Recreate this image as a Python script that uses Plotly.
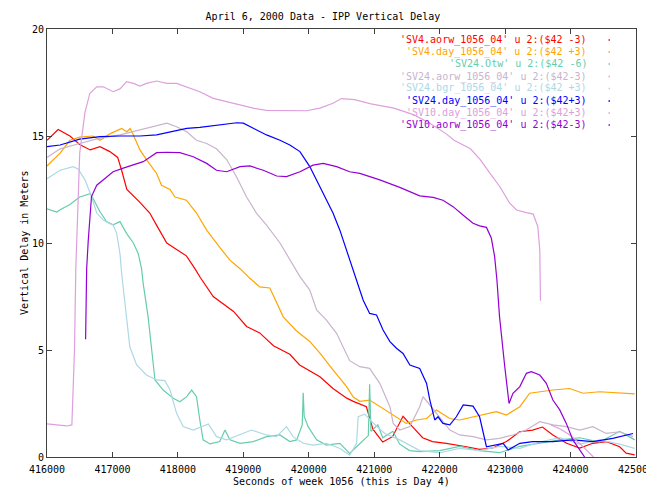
import plotly.graph_objects as go

# ---------------- data ----------------
x_sv4_aorw = [416000, 416170, 416350, 416500, 416660, 416810, 416960, 417080, 417140, 417220,
              417420, 417570, 417680, 417830, 417980, 418130, 418260, 418340, 418540, 418850,
              419050, 419250, 419460, 419710, 419860, 420170, 420370, 420580, 420680, 420880,
              420980, 421130, 421280, 421440, 421590, 421740, 421890, 422100, 422410, 422610,
              422810, 423020, 423220, 423420, 423570, 423730, 423940, 424140, 424340, 424550,
              424750, 424850, 424980]
y_sv4_aorw = [14.8, 15.3, 15.0, 14.6, 14.35, 14.5, 14.27, 14.0, 13.4, 12.5,
              11.9, 11.4, 10.8, 10.0, 9.7, 9.4, 8.8, 8.4, 7.5, 6.8,
              6.1, 5.8, 5.2, 4.8, 4.3, 3.75, 3.2, 2.75, 2.6, 2.35,
              1.3, 0.7, 0.95, 1.9, 1.4, 0.9, 0.72, 0.64, 0.48, 0.36,
              0.42, 0.72, 1.18, 1.26, 1.4, 1.03, 0.64, 0.42, 0.64, 0.72,
              0.48, 0.18, 0.1]

x_sv4_day = [416000, 416200, 416350, 416500, 416700, 416810, 416960, 417140, 417220, 417270,
             417320, 417420, 417520, 417675, 417750, 417880, 417955, 418130, 418285, 418440,
             418640, 418795, 418950, 419100, 419250, 419405, 419610, 419810, 420015, 420170,
             420370, 420575, 420680, 420780, 420930, 421135, 421340, 421490, 421645, 421800,
             421950, 422155, 422305, 422510, 422715, 422865, 423020, 423225, 423375, 423530,
             423730, 423985, 424190, 424445, 424700, 424980]
y_sv4_day = [13.6, 14.2, 14.8, 14.95, 15.0, 14.8, 15.1, 15.35, 15.2, 15.35,
             15.05, 14.35, 13.9, 13.25, 12.7, 12.5, 12.15, 12.0, 11.4, 10.6,
             9.8, 9.2, 8.8, 8.35, 7.95, 7.9, 6.55, 5.9, 5.4, 4.85,
             4.07, 3.3, 2.8, 2.6, 2.66, 2.27, 1.88, 1.57, 1.73, 1.8,
             2.2, 1.8, 1.73, 1.88, 2.04, 2.12, 1.96, 2.35, 2.98, 3.05,
             3.13, 3.2, 2.98, 3.05, 3.0, 2.95]

x_sv24_otw = [416000, 416150, 416200, 416350, 416500, 416660, 416700, 416810, 416910, 417010,
              417115, 417215, 417320, 417395, 417445, 417470, 417545, 417600, 417650, 417775,
              417930, 418030, 418135, 418210, 418285, 418335, 418385, 418490, 418640, 418720,
              418795, 418950, 419150, 419355, 419560, 419710, 419815, 419900, 419915, 419930,
              419990, 420120, 420270, 420475, 420625, 420730, 420910, 420930, 420950, 421055,
              421130, 421285, 421390, 421540, 421700, 422000, 422305, 422610, 422915, 423225,
              423835, 424140, 424445, 424750, 424980]
y_sv24_otw = [11.6, 11.45, 11.55, 11.8, 12.15, 12.3, 12.1, 11.46, 11.0, 10.85,
              11.0, 10.45, 10.0, 9.5, 8.8, 8.1, 6.55, 5.0, 3.6, 3.13,
              2.74, 2.58, 2.82, 3.13, 2.82, 1.73, 0.8, 0.61, 0.72, 1.26,
              0.8, 0.64, 0.72, 0.95, 1.03, 0.72, 0.8, 1.5, 3.0, 1.9,
              1.42, 0.8, 0.56, 0.64, 0.17, 0.48, 1.0, 3.4, 1.2, 1.5,
              0.9, 1.2, 0.6, 0.3, 0.25, 0.3, 0.5, 0.3, 0.2, 0.5,
              0.8, 0.9, 0.7, 1.2, 0.8]

x_sv24_aorw = [416000, 416200, 416500, 416810, 417115, 417420, 417625, 417830, 417980, 418135,
               418285, 418440, 418590, 418745, 418895, 419050, 419200, 419355, 419560, 419710,
               419865, 420015, 420120, 420270, 420425, 420625, 420780, 420930, 421085, 421240,
               421290, 421390, 421545, 421695, 421745, 421850, 422000, 422155, 422305, 422510,
               422715, 422915, 423120, 423320, 423530, 423730, 423935, 424140, 424340, 424545,
               424750, 424955]
y_sv24_aorw = [14.0, 14.4, 14.65, 14.9, 15.05, 15.3, 15.45, 15.6, 15.43, 15.2,
               14.8, 14.65, 14.4, 13.9, 13.1, 12.15, 11.4, 10.84, 10.0, 9.2,
               8.43, 7.8, 6.87, 6.4, 5.78, 4.5, 4.22, 4.14, 3.44, 2.35,
               1.57, 1.26, 1.42, 2.35, 2.82, 2.43, 1.88, 1.26, 1.03, 0.95,
               0.8, 0.87, 1.03, 1.26, 1.65, 1.5, 1.42, 1.26, 1.42, 1.1,
               1.18, 0.95]

x_sv24_bgr = [416000, 416200, 416400, 416480, 416580, 416680, 416760, 416860, 416960, 417010,
              417065, 417115, 417140, 417215, 417265, 417370, 417520, 417675, 417800, 417880,
              417980, 418080, 418235, 418465, 418590, 418745, 418950, 419125, 419355, 419505,
              419660, 419760, 419915, 420065, 420270, 420475, 420625, 420730, 420755, 420855,
              420980, 421160, 421390, 421695, 422000, 422305, 422610, 422915, 423225, 423530,
              423835, 424140, 424445, 424750, 424980]
y_sv24_bgr = [13.0, 13.4, 13.57, 13.45, 12.95, 12.17, 11.4, 11.07, 10.9, 10.84,
              10.45, 9.5, 8.6, 6.55, 5.15, 4.3, 3.83, 3.6, 3.57, 3.13,
              2.04, 1.42, 1.26, 1.54, 0.95, 0.8, 1.03, 1.26, 1.03, 0.95,
              1.42, 0.95, 0.64, 0.56, 0.64, 0.4, 0.09, 0.64, 1.88, 2.0,
              1.6, 1.1, 0.8, 0.3, 0.2, 0.4, 0.3, 0.5, 0.4, 0.7,
              0.9, 0.6, 0.8, 0.6, 0.4]

x_sv24_day = [416000, 416200, 416500, 416810, 417115, 417420, 417675, 417880, 418135, 418335,
              418540, 418745, 418900, 419000, 419150, 419355, 419560, 419710, 419865, 420015,
              420170, 420270, 420370, 420475, 420575, 420730, 420830, 420930, 421035, 421135,
              421240, 421340, 421440, 421545, 421695, 421800, 421850, 421925, 421975, 422050,
              422155, 422255, 422360, 422510, 422610, 422715, 422865, 422970, 423045, 423225,
              423420, 423730, 424035, 424340, 424645, 424955]
y_sv24_day = [14.5, 14.58, 14.85, 14.97, 15.0, 15.0, 15.05, 15.2, 15.36, 15.4,
              15.47, 15.56, 15.62, 15.6, 15.36, 15.05, 14.8, 14.58, 14.27, 13.57,
              12.63, 12.0, 11.4, 10.6, 9.67, 8.27, 7.34, 6.71, 6.64, 5.93,
              5.39, 5.08, 4.84, 4.3, 4.14, 3.44, 2.66, 1.73, 1.88, 1.57,
              1.5, 1.88, 2.43, 2.38, 1.88, 0.48, 0.56, 0.64, 0.33, 0.64,
              0.72, 0.72, 0.8, 0.72, 0.87, 1.1]

x_sv10_day = [416000, 416150, 416300, 416380, 416420, 416440, 416500, 416580, 416655, 416760,
              416860, 417010, 417115, 417215, 417320, 417420, 417520, 417675, 417830, 417980,
              418135, 418335, 418540, 418745, 418950, 419150, 419355, 419660, 419965, 420170,
              420370, 420500, 420700, 420950, 421300, 421600, 421850, 422100, 422220, 422470,
              422620, 422770, 422920, 423070, 423175, 423325, 423430, 423500, 423530, 423540,
              None,
              423700, 423850, 424000, 424150, 424350]
y_sv10_day = [1.55, 1.5, 1.45, 1.5, 5.0, 8.8, 14.2, 16.1, 17.0, 17.3,
              17.3, 17.07, 17.2, 17.54, 17.46, 17.33, 17.46, 17.57, 17.46, 17.46,
              17.3, 17.07, 16.76, 16.6, 16.45, 16.3, 16.2, 16.18, 16.18, 16.3,
              16.53, 16.75, 16.7, 16.5, 16.3, 16.0, 15.6, 15.1, 14.8, 14.4,
              13.9, 13.25, 12.63, 11.86, 11.54, 11.42, 11.35, 10.76, 9.67, 7.3,
              None,
              1.5, 1.3, 1.0, 0.6, 0.0]

x_sv10_aorw = [416590, 416606, 416630, 416680, 416760, 416860, 417010, 417165, 417320, 417470,
               417675, 417830, 418030, 418235, 418440, 418590, 418745, 418950, 419100, 419305,
               419510, 419660, 419865, 420065, 420220, 420425, 420625, 420780, 421085, 421390,
               421695, 421900, 422050, 422205, 422360, 422510, 422610, 422715, 422790, 422840,
               422875, 422915, 422995, 423060, 423120, 423225, 423325, 423400, 423530, 423630,
               423730, 423835, 423935, 424035, 424140, 424215]
y_sv10_aorw = [5.5, 8.8, 10.1, 12.17, 12.7, 12.95, 13.33, 13.5, 13.64, 13.8,
               14.22, 14.24, 14.22, 14.03, 13.72, 13.4, 13.33, 13.57, 13.6, 13.4,
               13.13, 13.1, 13.33, 13.64, 13.72, 13.57, 13.33, 13.25, 12.95, 12.6,
               12.2, 12.13, 12.0, 11.7, 11.3, 10.92, 10.8, 10.73, 10.22, 9.36,
               8.27, 6.55, 4.22, 2.5, 2.98, 3.29, 3.91, 3.99, 3.83, 3.44,
               2.66, 2.2, 1.57, 0.8, 0.33, 0.0]

x_ticks = [416000, 417000, 418000, 419000, 420000, 421000, 422000, 423000, 424000, 425000]
y_ticks = [0, 5, 10, 15, 20]

legend_labels = [
    "'SV4.aorw_1056_04' u 2:($42 -3)",
    "'SV4.day_1056_04' u 2:($42 +3)",
    "'SV24.Otw' u 2:($42 -6)",
    "'SV24.aorw_1056_04' u 2:($42-3)",
    "'SV24.bgr_1056_04' u 2:($42 +3)",
    "'SV24.day_1056_04' u 2:($42+3)",
    "'SV10.day_1056_04' u 2:($42+3)",
    "'SV10.aorw_1056_04' u 2:($42-3)",
]
colors = ["#ff0000", "#ffa500", "#66cdaa", "#c8b4cc", "#add8e6", "#0000ff", "#dda0dd", "#9400d3"]
xs_all = [x_sv4_aorw, x_sv4_day, x_sv24_otw, x_sv24_aorw, x_sv24_bgr, x_sv24_day, x_sv10_day, x_sv10_aorw]
ys_all = [y_sv4_aorw, y_sv4_day, y_sv24_otw, y_sv24_aorw, y_sv24_bgr, y_sv24_day, y_sv10_day, y_sv10_aorw]

# ---------------- figure ----------------
W, H = 646, 488
ML, MR, MT, MB = 47, 10, 29, 31
PW, PH = W - ML - MR, H - MT - MB
FONT = "DejaVu Sans Mono"

fig = go.Figure()
for name, xs, ys, c in zip(legend_labels, xs_all, ys_all, colors):
    fig.add_trace(go.Scatter(x=xs, y=ys, mode="lines", name=name, showlegend=False,
                             line=dict(color=c, width=1.2), connectgaps=False))

def px_x(px):
    return (px - ML) / PW

def px_y(py):
    return (H - MB - py) / PH

annotations = []
shapes = []
leg_y = [40, 52, 64, 76.5, 88.5, 101, 113, 125]
for lab, c, py in zip(legend_labels, colors, leg_y):
    annotations.append(dict(text=lab, x=px_x(589), y=px_y(py), xref="paper", yref="paper",
                            xanchor="right", yanchor="middle", showarrow=False,
                            font=dict(family=FONT, size=10, color=c)))
    shapes.append(dict(type="rect", xref="paper", yref="paper",
                       x0=px_x(608.5), x1=px_x(610), y0=px_y(py + 0.7), y1=px_y(py - 0.7),
                       line=dict(width=0), fillcolor=c))

annotations.append(dict(text="Vertical Delay in Meters", x=px_x(24), y=0.5, xref="paper", yref="paper",
                        textangle=-90, showarrow=False, xanchor="center", yanchor="middle",
                        font=dict(family=FONT, size=10, color="black")))
annotations.append(dict(text="Seconds of week 1056 (this is Day 4)", x=0.5, y=px_y(482), xref="paper",
                        yref="paper", showarrow=False, xanchor="center", yanchor="middle",
                        font=dict(family=FONT, size=10, color="black")))

axis_common = dict(showgrid=False, zeroline=False, showline=True, linecolor="#404040", linewidth=1,
                   ticks="inside", ticklen=5, tickcolor="#404040", mirror="ticks",
                   tickfont=dict(family=FONT, size=10, color="black"))

fig.update_layout(
    width=W, height=H, autosize=False,
    margin=dict(l=ML, r=MR, t=MT, b=MB, pad=0),
    paper_bgcolor="white", plot_bgcolor="white",
    title=dict(text="April 6, 2000 Data - IPP Vertical Delay", x=0.5, xanchor="center",
               y=1 - 16 / H, yref="container", yanchor="middle",
               font=dict(family=FONT, size=10, color="black")),
    xaxis=dict(range=[416000, 425000], tickvals=x_ticks, ticktext=[str(v) for v in x_ticks],
               automargin=False, ticklabeloverflow="allow", ticklabelstandoff=3, **axis_common),
    yaxis=dict(range=[0, 20], tickvals=y_ticks, ticktext=[str(v) for v in y_ticks],
               automargin=False, **axis_common),
    annotations=annotations, shapes=shapes,
)

fig.write_html("out.html")
